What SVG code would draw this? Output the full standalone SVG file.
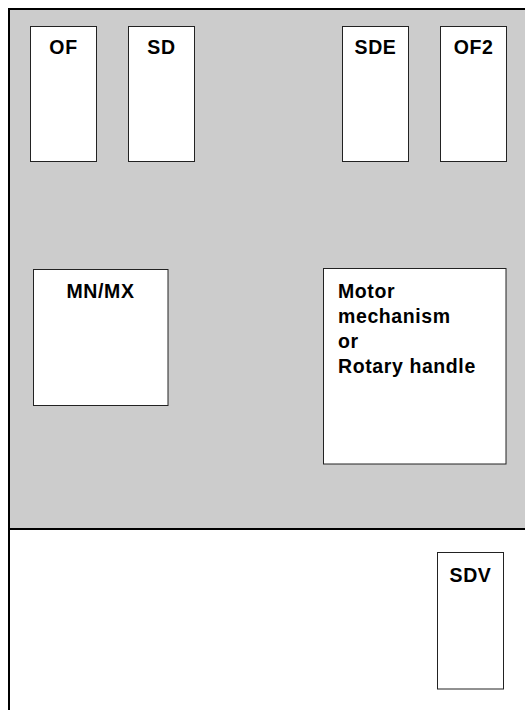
<svg xmlns="http://www.w3.org/2000/svg" width="525" height="710" viewBox="0 0 525 710">
<style>
.box{fill:#fff;stroke:#222;stroke-width:1}
.lbl{font-family:"Liberation Sans",Arial,sans-serif;font-weight:bold;font-size:19.5px;letter-spacing:0.6px;fill:#000}
.c{text-anchor:middle}
.frame{fill:none;stroke:#000;stroke-width:2}
</style>
<rect x="0" y="0" width="525" height="710" fill="#fff"/>
<g id="frame">
<rect x="9" y="9" width="530" height="520" fill="#cccccc"/>
<path class="frame" d="M9,710 V9 H530 M9,529 H530"/>
</g>
<g id="OF"><rect class="box" x="30.5" y="26.5" width="66" height="135"/><text class="lbl c" x="63.5" y="54">OF</text></g>
<g id="SD"><rect class="box" x="128.5" y="26.5" width="66" height="135"/><text class="lbl c" x="161.5" y="54">SD</text></g>
<g id="SDE"><rect class="box" x="342.5" y="26.5" width="66" height="135"/><text class="lbl c" x="375.5" y="54">SDE</text></g>
<g id="OF2"><rect class="box" x="440.5" y="26.5" width="66" height="135"/><text class="lbl c" x="473.5" y="54">OF2</text></g>
<g id="MNMX"><rect class="box" x="33.5" y="269.5" width="134.5" height="136"/><text class="lbl c" x="100.5" y="298">MN/MX</text></g>
<g id="Motor"><rect class="box" x="323.5" y="268.5" width="182.5" height="195.5"/>
<text class="lbl" x="338" y="298">Motor</text>
<text class="lbl" x="338" y="323">mechanism</text>
<text class="lbl" x="338" y="348">or</text>
<text class="lbl" x="338" y="373">Rotary handle</text></g>
<g id="SDV"><rect class="box" x="437.5" y="552.5" width="66" height="136.5"/><text class="lbl c" x="470.5" y="582">SDV</text></g>
<g id="connectors"></g>
</svg>
